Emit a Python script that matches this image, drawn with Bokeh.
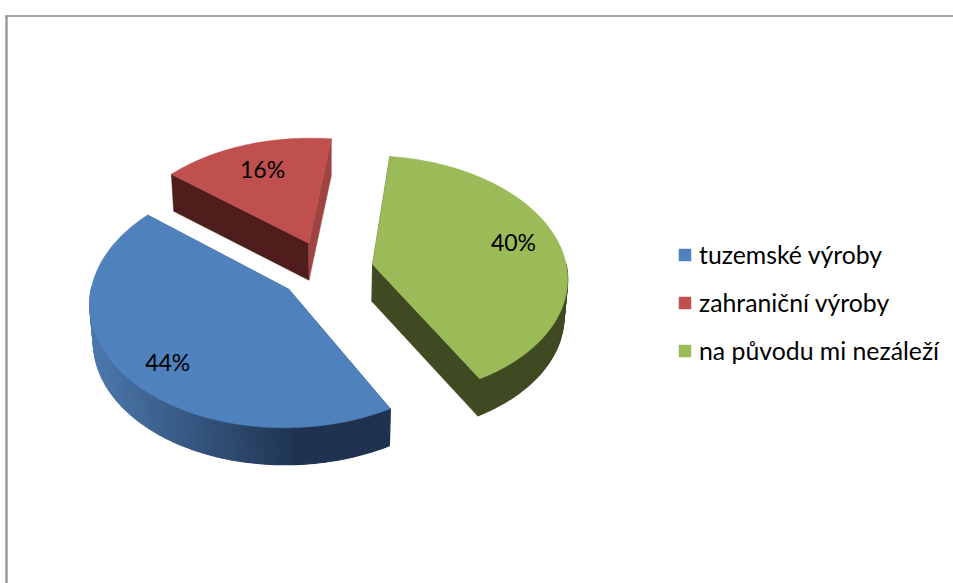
import numpy as np
from bokeh.plotting import figure
from bokeh.models import Range1d, Legend, LegendItem
from bokeh.core.properties import value
from bokeh.embed import file_html
from bokeh.resources import INLINE

categories = ["tuzemské výroby", "zahraniční výroby", "na původu mi nezáleží"]
shares = [44, 16, 40]
labels = ["44%", "16%", "40%"]
top_colors = ["#4F81BD", "#C0504D", "#9BBB59"]
edge_colors = ["#3A5E8C", "#4F1E1C", "#3F4A22"]
side_colors = ["#3A5E8C", "#9F4442", "#3F4A22"]
label_radius = [0.79, 0.74, 0.77]
label_angle = [226, 339, 75.7]

W, H = 953, 583
OX, OY = 325.5, 269.5
S, C, K = 194.5, 0.62, 0.10
EXPLODE, DEPTH, START = 0.245, 37, 151.0
BOTTOM_SCALE = 0.985


def proj(X, Y):
    w = 1 + K * Y
    return OX + S * X / w, OY - S * C * Y / w


def lower(x, y):
    return OX + (x - OX) * BOTTOM_SCALE, y + DEPTH


def mix(a, b, t):
    ca = [int(a[i:i + 2], 16) for i in (1, 3, 5)]
    cb = [int(b[i:i + 2], 16) for i in (1, 3, 5)]
    return "#%02x%02x%02x" % tuple(int(round(p + (q - p) * t)) for p, q in zip(ca, cb))


p = figure(width=W, height=H, output_backend="svg", toolbar_location=None,
           x_range=Range1d(0, W), y_range=Range1d(H, 0),
           min_border=0, outline_line_color=None)
p.axis.visible = False
p.grid.visible = False
p.xaxis.visible = False
p.yaxis.visible = False

p.line([6, 6], [15, H], line_color="#969696", line_width=2.4)
p.line([5, W], [15.5, 15.5], line_color="#8c8c8c", line_width=1.6)

side_x, side_y, side_c = [], [], []
wall_x, wall_y, wall_c = [], [], []
face_x, face_y, face_c = [], [], []
label_x, label_y = [], []
angle = START
for i, share in enumerate(shares):
    sweep = share * 3.6
    ang = np.radians(np.linspace(angle, angle + sweep, 121))
    mid = np.radians(angle + sweep / 2)
    ex, ey = EXPLODE * np.sin(mid), EXPLODE * np.cos(mid)
    ax, ay = proj(ex + np.sin(ang), ey + np.cos(ang))
    vx, vy = proj(ex, ey)
    lvx, lvy = lower(vx, vy)
    # the two straight walls, painted first
    for k in (0, -1):
        bx, by = lower(ax[k], ay[k])
        side_x.append([vx, ax[k], bx, lvx])
        side_y.append([vy, ay[k], by, lvy])
        side_c.append(edge_colors[i] if k == 0 else side_colors[i])
    # outer wall: only the stretch of rim that faces the viewer
    front = np.cos(ang) < 0.02
    idx = np.nonzero(front)[0]
    for j in idx[:-1]:
        if not front[j + 1]:
            continue
        bx0, by0 = lower(ax[j], ay[j])
        bx1, by1 = lower(ax[j + 1], ay[j + 1])
        wall_x.append([ax[j], ax[j + 1], bx1, bx0])
        wall_y.append([ay[j], ay[j + 1], by1, by0])
        if i == 0:
            t = min(max((ax[j] - 90) / 210, 0), 1)
            wall_c.append(mix("#4C79AE", "#1F3350", t))
        else:
            wall_c.append(edge_colors[i])
    face_x.append(np.r_[vx, ax])
    face_y.append(np.r_[vy, ay])
    face_c.append(top_colors[i])
    la = np.radians(label_angle[i])
    lx, ly = proj(ex + label_radius[i] * np.sin(la), ey + label_radius[i] * np.cos(la))
    label_x.append(lx)
    label_y.append(ly)
    angle += sweep

p.patches(side_x, side_y, fill_color=side_c, line_color=side_c, line_width=0.5)
p.patches(wall_x, wall_y, fill_color=wall_c, line_color=wall_c, line_width=1.2)
faces = p.patches(face_x, face_y, fill_color=face_c, line_color=face_c, line_width=0.5)
p.text(label_x, label_y, text=labels, text_font=value("Lato"), text_font_size="23px",
       text_align="center", text_baseline="middle", text_color="#000000")

legend = Legend(items=[LegendItem(label=c, renderers=[faces], index=i) for i, c in enumerate(categories)],
                location=(677, 218), orientation="vertical",
                background_fill_alpha=0, border_line_color=None,
                padding=0, margin=0, spacing=19, glyph_width=15, glyph_height=15,
                label_standoff=7, label_text_font="Lato", label_text_font_size="24.8px",
                label_text_color="#000000", label_height=26)
p.add_layout(legend, "center")

open("out.html", "w").write(file_html(p, INLINE))
